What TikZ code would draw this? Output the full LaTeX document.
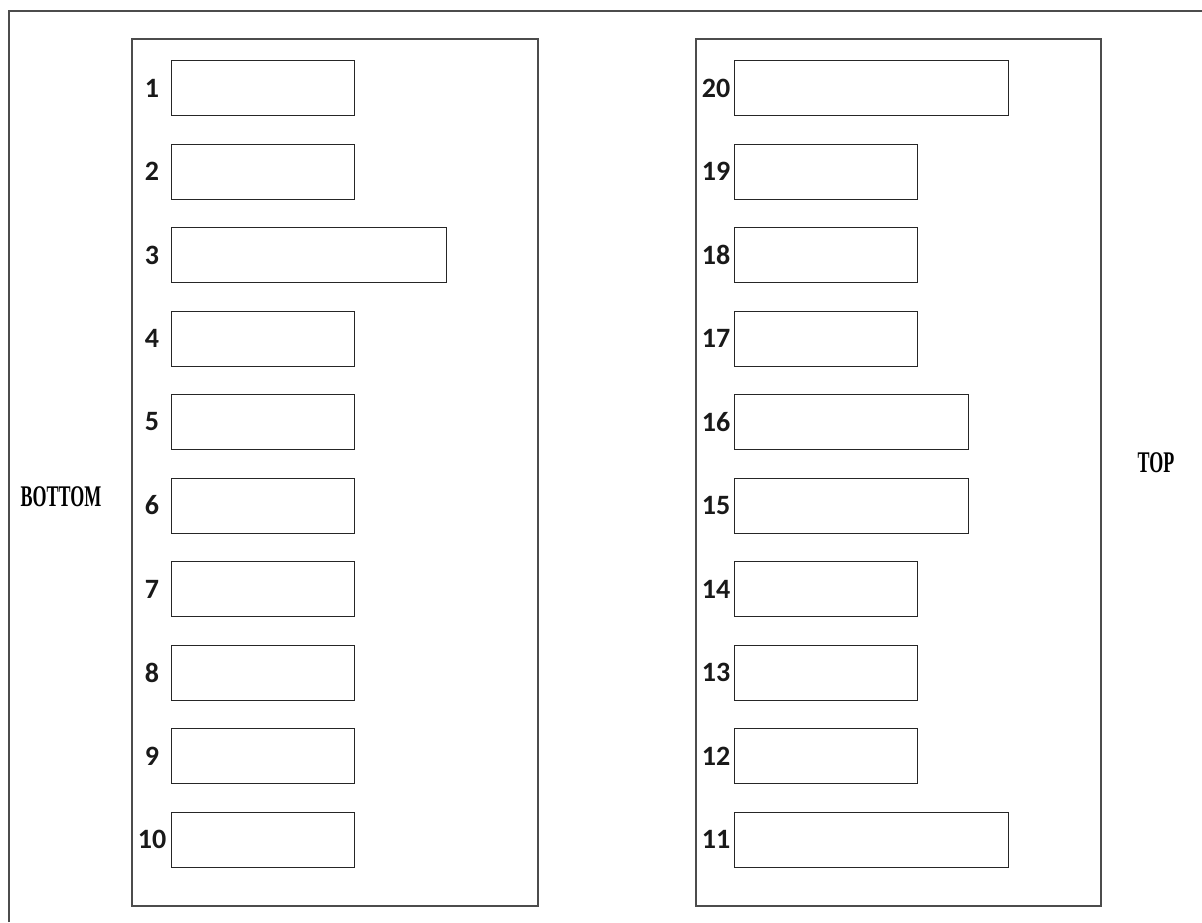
\documentclass[tikz,border=0pt]{standalone}
\usepackage{fontspec}
\usepackage{graphicx}
\newfontfamily\labfont{Carlito}
\newfontfamily\sidefont{Liberation Serif}
\begin{document}
\begin{tikzpicture}[x=1pt,y=-1pt,
  frame/.style={draw=black!70,line width=1.6pt},
  panel/.style={draw=black!70,line width=1.6pt,inner sep=0pt,anchor=north west,minimum width=406pt,minimum height=867pt},
  slot/.style={draw=black!85,line width=1.4pt,inner sep=0pt,anchor=north west,minimum height=55pt},
  num/.style={font=\labfont\bfseries\fontsize{28}{32}\selectfont,inner sep=0pt,text=black!90},
  side/.style={font=\sidefont\bfseries\fontsize{30}{34}\selectfont,inner sep=0pt}]
\useasboundingbox (0,0) rectangle (1202,922);
% outer frame (cropped at right and bottom)
\coordinate (fbl) at (9,922);
\coordinate (ftl) at (9,11);
\coordinate (ftr) at (1202,11);
\draw[frame] (fbl) -- (ftl) -- (ftr);
% panels
\node[panel] (lp) at (131,38) {};
\node[panel,minimum width=405pt] (rp) at (695,38) {};
% left slots
\foreach \i/\w in {1/183,2/183,3/275,4/183,5/183,6/183,7/183,8/183,9/183,10/183}{
  \node[slot,minimum width=\w pt] (b\i) at (171,{60+83.5*(\i-1)}) {};
  \node[num] (n\i) at (152,{88+83.5*(\i-1)}) {\i};
}
% right slots
\foreach \k/\n/\w in {0/20/274,1/19/183,2/18/183,3/17/183,4/16/234,5/15/234,6/14/183,7/13/183,8/12/183,9/11/274}{
  \node[slot,minimum width=\w pt] (b\n) at (734,{60+83.5*\k}) {};
  \node[num] (n\n) at (716,{88+83.5*\k}) {\n};
}
% side labels
\node[side] (bottom) at (61,497) {\scalebox{0.6}[1]{BOTTOM}};
\node[side] (top) at (1156,463) {\scalebox{0.6}[1]{TOP}};
\end{tikzpicture}
\end{document}
